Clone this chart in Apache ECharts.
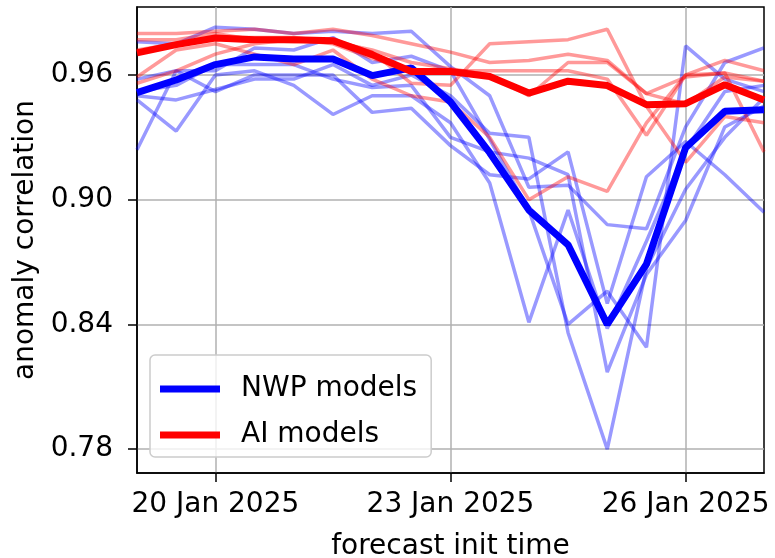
<!DOCTYPE html>
<html>
<head>
<meta charset="utf-8">
<script src="https://cdn.jsdelivr.net/npm/echarts@6/dist/echarts.min.js"></script>
<style>
  html, body { margin: 0; padding: 0; background: #fff; }
  #chart { width: 775px; height: 558px; }
</style>
</head>
<body>
<div id="chart"></div>
<script>
// forecast init times, every 12 h
var initTimes = [
  "2025-01-19T00:00Z", "2025-01-19T12:00Z", "2025-01-20T00:00Z", "2025-01-20T12:00Z",
  "2025-01-21T00:00Z", "2025-01-21T12:00Z", "2025-01-22T00:00Z", "2025-01-22T12:00Z",
  "2025-01-23T00:00Z", "2025-01-23T12:00Z", "2025-01-24T00:00Z", "2025-01-24T12:00Z",
  "2025-01-25T00:00Z", "2025-01-25T12:00Z", "2025-01-26T00:00Z", "2025-01-26T12:00Z",
  "2025-01-27T00:00Z"
];
var xTicks = ["2025-01-20T00:00Z", "2025-01-23T00:00Z", "2025-01-26T00:00Z"];
var yTicks = [0.78, 0.84, 0.90, 0.96];
var monthNames = ["Jan", "Feb", "Mar", "Apr", "May", "Jun", "Jul", "Aug", "Sep", "Oct", "Nov", "Dec"];

// individual NWP models (thin blue)
var nwpModels = [
  [0.976, 0.975, 0.983, 0.982, 0.980, 0.981, 0.980, 0.981, 0.964, 0.950, 0.906, 0.907, 0.888, 0.886, 0.935, 0.966, 0.973],
  [0.958, 0.962, 0.962, 0.973, 0.972, 0.978, 0.966, 0.969, 0.962, 0.929, 0.895, 0.840, 0.856, 0.829, 0.974, 0.958, 0.952],
  [0.950, 0.948, 0.953, 0.958, 0.958, 0.965, 0.955, 0.960, 0.950, 0.932, 0.930, 0.836, 0.780, 0.867, 0.905, 0.930, 0.949],
  [0.948, 0.933, 0.960, 0.962, 0.955, 0.941, 0.950, 0.950, 0.937, 0.908, 0.841, 0.895, 0.838, 0.880, 0.924, 0.952, 0.955],
  [0.924, 0.962, 0.952, 0.960, 0.960, 0.960, 0.942, 0.944, 0.926, 0.912, 0.910, 0.923, 0.850, 0.911, 0.928, 0.912, 0.894],
  [0.952, 0.955, 0.965, 0.965, 0.965, 0.958, 0.954, 0.955, 0.930, 0.923, 0.920, 0.912, 0.817, 0.864, 0.890, 0.935, 0.945]
];
// individual AI models (thin red)
var aiModels = [
  [0.980, 0.980, 0.981, 0.982, 0.980, 0.982, 0.979, 0.975, 0.971, 0.966, 0.967, 0.970, 0.967, 0.951, 0.946, 0.959, 0.957],
  [0.977, 0.977, 0.980, 0.977, 0.976, 0.977, 0.971, 0.956, 0.955, 0.975, 0.976, 0.977, 0.982, 0.945, 0.918, 0.940, 0.937],
  [0.959, 0.972, 0.975, 0.970, 0.965, 0.972, 0.958, 0.950, 0.947, 0.930, 0.900, 0.911, 0.904, 0.937, 0.960, 0.967, 0.962],
  [0.956, 0.962, 0.970, 0.975, 0.977, 0.975, 0.968, 0.962, 0.962, 0.962, 0.962, 0.962, 0.958, 0.931, 0.960, 0.961, 0.923],
  [0.972, 0.975, 0.978, 0.978, 0.978, 0.976, 0.972, 0.966, 0.963, 0.960, 0.950, 0.966, 0.966, 0.951, 0.959, 0.961, 0.957]
];
// model group means
var nwpMean = [0.9515, 0.9576, 0.965, 0.9687, 0.9677, 0.9677, 0.9597, 0.9634, 0.947, 0.9226, 0.895, 0.8783, 0.840, 0.869, 0.925, 0.9425, 0.9433];
var aiMean = [0.9706, 0.9746, 0.9778, 0.977, 0.977, 0.9765, 0.9698, 0.9617, 0.9617, 0.9593, 0.9513, 0.957, 0.9549, 0.9457, 0.9462, 0.9553, 0.948];

var FONT = "DejaVu Sans";
var FS = 28;

function ms(s) {
  return Date.parse(s);
}
function pairs(vals) {
  return vals.map(function (v, i) { return [ms(initTimes[i]), v]; });
}
function thinLine(vals, color) {
  return {
    type: "line",
    data: pairs(vals),
    symbol: "none",
    silent: true,
    lineStyle: { color: color, width: 3.5, opacity: 0.4 },
    z: 2
  };
}

var series = [];
nwpModels.forEach(function (m) { series.push(thinLine(m, "#0000ff")); });
aiModels.forEach(function (m) { series.push(thinLine(m, "#ff0000")); });
series.push({
  name: "NWP models",
  type: "line",
  data: pairs(nwpMean),
  symbol: "none",
  color: "#0000ff",
  lineStyle: { color: "#0000ff", width: 7 },
  z: 3
});
series.push({
  name: "AI models",
  type: "line",
  data: pairs(aiMean),
  symbol: "none",
  color: "#ff0000",
  lineStyle: { color: "#ff0000", width: 7 },
  z: 4
});

var chart = echarts.init(document.getElementById("chart"));
chart.setOption({
  animation: false,
  backgroundColor: "#fff",
  textStyle: { fontFamily: FONT },
  grid: {
    left: 137, right: 11, top: 7, bottom: 85,
    outerBoundsMode: "none",
    containLabel: false,
    show: true, borderColor: "#000", borderWidth: 1.5, backgroundColor: "transparent"
  },
  legend: {
    data: ["NWP models", "AI models"],
    orient: "vertical",
    left: 150,
    top: 355,
    padding: [20, 14, 8, 10],
    itemGap: 18,
    icon: "rect",
    itemWidth: 60,
    itemHeight: 7,
    backgroundColor: "rgba(255,255,255,0.8)",
    borderColor: "#cccccc",
    borderWidth: 1.5,
    borderRadius: 5,
    textStyle: { fontFamily: FONT, fontSize: FS, color: "#000", padding: [0, 0, 0, 16] }
  },
  xAxis: {
    type: "value",
    min: ms(initTimes[0]),
    max: ms(initTimes[initTimes.length - 1]),
    name: "forecast init time",
    nameLocation: "middle",
    nameGap: 60,
    nameTextStyle: { fontFamily: FONT, fontSize: FS, color: "#000" },
    axisLine: { show: true, onZero: false, lineStyle: { color: "#000", width: 1.5 } },
    axisTick: { show: true, length: 9, lineStyle: { color: "#000", width: 1.5 }, customValues: xTicks.map(ms) },
    axisLabel: {
      fontFamily: FONT, fontSize: FS, color: "#000", margin: 18,
      customValues: xTicks.map(ms),
      formatter: function (v) {
        var d = new Date(v);
        return d.getUTCDate() + " " + monthNames[d.getUTCMonth()] + " " + d.getUTCFullYear();
      }
    },
    splitLine: { show: true, lineStyle: { color: "#b0b0b0", width: 1.5 } }
  },
  yAxis: {
    type: "value",
    min: 0.7685,
    max: 0.9927,
    name: "anomaly correlation",
    nameLocation: "middle",
    nameGap: 90,
    nameTextStyle: { fontFamily: FONT, fontSize: FS, color: "#000" },
    axisLine: { show: true, onZero: false, lineStyle: { color: "#000", width: 1.5 } },
    axisTick: { show: true, length: 9, lineStyle: { color: "#000", width: 1.5 }, customValues: yTicks },
    axisLabel: {
      fontFamily: FONT, fontSize: FS, color: "#000", margin: 24,
      customValues: yTicks,
      formatter: function (v) { return v.toFixed(2); }
    },
    splitLine: { show: true, lineStyle: { color: "#b0b0b0", width: 1.5 } }
  },
  series: series
});
</script>
</body>
</html>
